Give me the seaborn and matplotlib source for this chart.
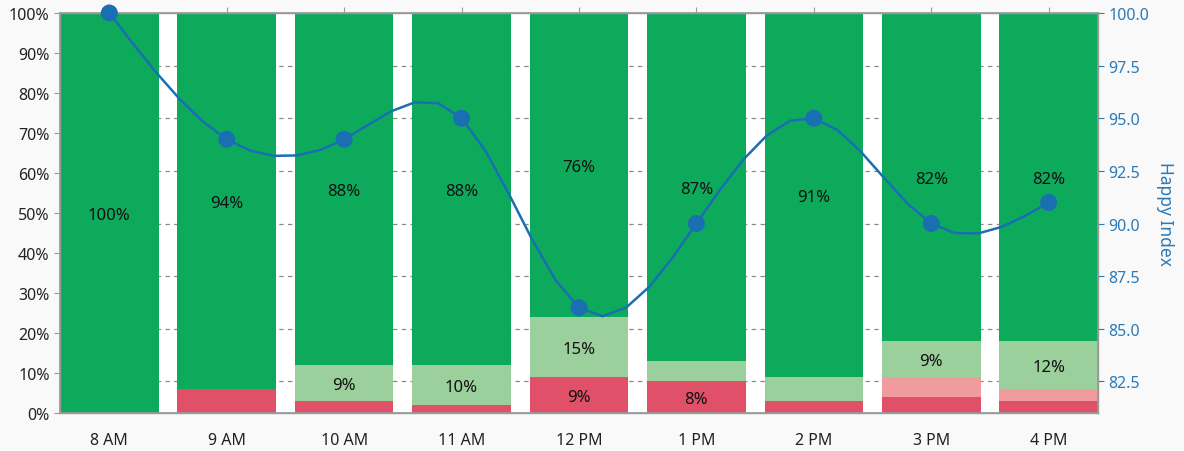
import numpy as np
import pandas as pd
import matplotlib
matplotlib.use("Agg")
import matplotlib.pyplot as plt
import matplotlib.transforms as mtransforms
import seaborn as sns

# ---- data ----
hours = ["8 AM", "9 AM", "10 AM", "11 AM", "12 PM", "1 PM", "2 PM", "3 PM", "4 PM"]
very_unhappy = [0, 6, 3, 2, 9, 8, 3, 4, 3]        # dark red
unhappy = [0, 0, 0, 0, 0, 0, 0, 5, 3]             # light red
neutral = [0, 0, 9, 10, 15, 5, 6, 9, 12]          # light green
happy = [100, 94, 88, 88, 76, 87, 91, 82, 82]     # green
happy_index = [100, 94, 94, 95, 86, 90, 95, 90, 91]

C_GREEN = "#0eaa5c"
C_LGREEN = "#9bcf9c"
C_LRED = "#f09c9f"
C_RED = "#e05069"
C_LINE = "#1a6fb3"
C_AXLBL = "#2a7ab9"

sns.set_theme(style="white")
plt.rcParams["font.family"] = ["Noto Sans", "DejaVu Sans"]

fig = plt.figure(figsize=(11.84, 4.52), dpi=100, facecolor="#f9f9f9")
ax = fig.add_axes([60 / 1184, 38 / 452, 1038 / 1184, 400 / 452])
ax.set_facecolor("white")

df = pd.DataFrame({"hour": hours, "r": very_unhappy, "lr": unhappy,
                   "lg": neutral, "g": happy})
c1 = df["r"]
c2 = c1 + df["lr"]
c3 = c2 + df["lg"]
c4 = c3 + df["g"]
df["c1"], df["c2"], df["c3"], df["c4"] = c1, c2, c3, c4

W = 0.84
for col, color in [("c4", C_GREEN), ("c3", C_LGREEN), ("c2", C_LRED), ("c1", C_RED)]:
    sns.barplot(data=df, x="hour", y=col, color=color, width=W, ax=ax,
                saturation=1, linewidth=0, zorder=2, errorbar=None)

# labels
for i in range(len(hours)):
    bottoms = [0, c1[i], c2[i], c3[i]]
    vals = [very_unhappy[i], unhappy[i], neutral[i], happy[i]]
    for b, v in zip(bottoms, vals):
        if v >= 8:
            ax.text(i, b + v / 2, f"{v}%", ha="center", va="center_baseline",
                    fontsize=12, color="#111111", zorder=5)

ax.set_xlim(-0.42, len(hours) - 1 + 0.42)
ax.set_ylim(0, 100)
ax.set_yticks(np.arange(0, 101, 10))
ax.set_yticklabels([f"{v}%" for v in range(0, 101, 10)])
ax.set_xlabel("")
ax.set_ylabel("")
ax.tick_params(axis="both", labelsize=11.5, colors="#222222", length=4,
               width=0.8, direction="out")
ax.tick_params(axis="x", top=True, pad=10, color="#999999")
ax.tick_params(axis="y", color="#999999")
for s in ax.spines.values():
    s.set_color("#999999")
    s.set_linewidth(1)

# twin axis with happy index
ax2 = ax.twinx()
ax2.set_ylim(81, 100)
ticks2 = np.arange(82.5, 100.01, 2.5)
ax2.set_yticks(ticks2)
ax2.set_yticklabels([f"{t:.1f}" for t in ticks2])
ax2.tick_params(axis="y", labelsize=11.5, colors=C_AXLBL, length=4, width=0.8)
ax2.set_ylabel("Happy Index", color=C_AXLBL, fontsize=12.5, rotation=270,
               labelpad=18)
for s in ax2.spines.values():
    s.set_color("#999999")

# dashed grid at the right-axis ticks, drawn under the bars
trans = mtransforms.blended_transform_factory(ax.transAxes, ax2.transData)
for t in ticks2[:-1]:
    ax.plot([0, 1], [t, t], transform=trans, ls=(0, (3.5, 3.5)), lw=0.9,
            color="#8a8a8a", zorder=0.5)

# smooth (natural cubic spline) line through the index values
y = np.asarray(happy_index, dtype=float)
n = len(y)
A = np.zeros((n, n))
rhs = np.zeros(n)
A[0, 0] = 1
A[-1, -1] = 1
for i in range(1, n - 1):
    A[i, i - 1:i + 2] = [1, 4, 1]
    rhs[i] = 6 * (y[i + 1] - 2 * y[i] + y[i - 1])
M = np.linalg.solve(A, rhs)
xs, ys = [], []
for i in range(n - 1):
    for t in np.linspace(0, 1, 6)[:-1]:
        xs.append(i + t)
        ys.append((1 - t) * y[i] + t * y[i + 1]
                  + ((1 - t) ** 3 - (1 - t)) * M[i] / 6 + (t ** 3 - t) * M[i + 1] / 6)
xs.append(n - 1)
ys.append(y[-1])
ax2.plot(xs, ys, color=C_LINE, lw=1.8, zorder=6, clip_on=False)
sns.scatterplot(x=np.arange(n), y=happy_index, ax=ax2, color=C_LINE, s=150,
                edgecolor="none", zorder=7, clip_on=False)

fig.savefig("out.png", dpi=100, facecolor=fig.get_facecolor())
